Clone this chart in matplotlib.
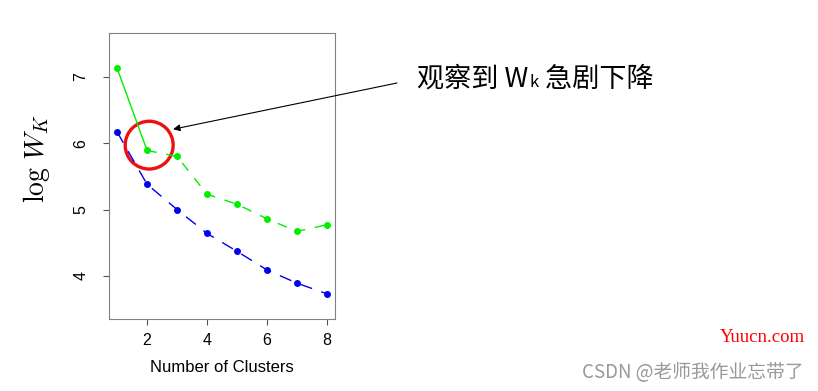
"""Gap statistic style elbow plot: log W_K against number of clusters."""

import matplotlib.pyplot as plt
from matplotlib.patches import Ellipse

plt.rcParams["font.family"] = ["Liberation Sans", "Noto Sans CJK SC", "DejaVu Sans"]
plt.rcParams["mathtext.fontset"] = "cm"

clusters = [1, 2, 3, 4, 5, 6, 7, 8]
log_wk_green = [7.13, 5.89, 5.80, 5.23, 5.08, 4.86, 4.67, 4.77]
log_wk_blue = [6.17, 5.38, 5.00, 4.64, 4.37, 4.09, 3.89, 3.73]
x_ticks = [2, 4, 6, 8]
y_ticks = [4, 5, 6, 7]

W, H = 818, 391
fig = plt.figure(figsize=(W / 100, H / 100), dpi=100)
ax = fig.add_axes([109 / W, 1 - 319 / H, 226 / W, 286 / H])

# first segment of the green curve is solid, the rest dashed
ax.plot(clusters[:2], log_wk_green[:2], color="#00ee00", lw=1.0)
ax.plot(clusters[1:], log_wk_green[1:], color="#00ee00", lw=1.0, ls=(0, (7, 7)))
ax.plot(clusters, log_wk_blue, color="#0000ee", lw=1.0, ls=(0, (9, 7)))
ax.plot(clusters, log_wk_green, "o", color="#00ee00", ms=5, mec="none")
ax.plot(clusters, log_wk_blue, "o", color="#0000ee", ms=5, mec="none")

ax.add_patch(Ellipse((2.07, 5.97), 1.6, 0.72, fill=False, ec="#ee1111", lw=2.4))

ax.set_xlim(0.73, 8.27)
ax.set_ylim(3.35, 7.66)
ax.set_xticks(x_ticks)
ax.set_yticks(y_ticks)
ax.set_yticklabels([str(t) for t in y_ticks], rotation=90, va="center")
ax.tick_params(labelsize=11.5, length=4, color="#555555")
ax.tick_params(axis="y", pad=11)
ax.tick_params(axis="x", pad=6)
for s in ax.spines.values():
    s.set_color("#808080")
ax.set_xlabel("Number of Clusters", fontsize=12, labelpad=9)
fig.text(37 / W, 1 - 158 / H, r"$\log\,W_K$", fontsize=20, rotation=90,
         ha="center", va="center")

ax.annotate("", xy=(2.87, 6.21), xycoords="data",
            xytext=(397, H - 83), textcoords="figure pixels",
            arrowprops=dict(arrowstyle="-|>", color="black", lw=0.8,
                            mutation_scale=10, shrinkA=0, shrinkB=0))

# annotation text: small k placed right after W, on the same baseline
cjk = ["Noto Sans CJK SC", "DejaVu Sans"]
renderer = fig.canvas.get_renderer()
x = 417
for part, size in [("观察到 W", 19.5), ("k", 12), (" 急剧下降", 19.5)]:
    t = fig.text(x / W, 1 - 87 / H, part, fontsize=size, family=cjk, va="baseline")
    x = t.get_window_extent(renderer).x1 + 1

fig.text(805 / W, 1 - 337 / H, "Yuucn.com", fontsize=13.5, color="#ff0000",
         family="Liberation Serif", ha="right", va="center")
fig.text(804 / W, 1 - 372 / H, "CSDN @老师我作业忘带了", fontsize=13.5,
         color="#999999", family=cjk, ha="right", va="center")

fig.savefig("out.png", dpi=100)
